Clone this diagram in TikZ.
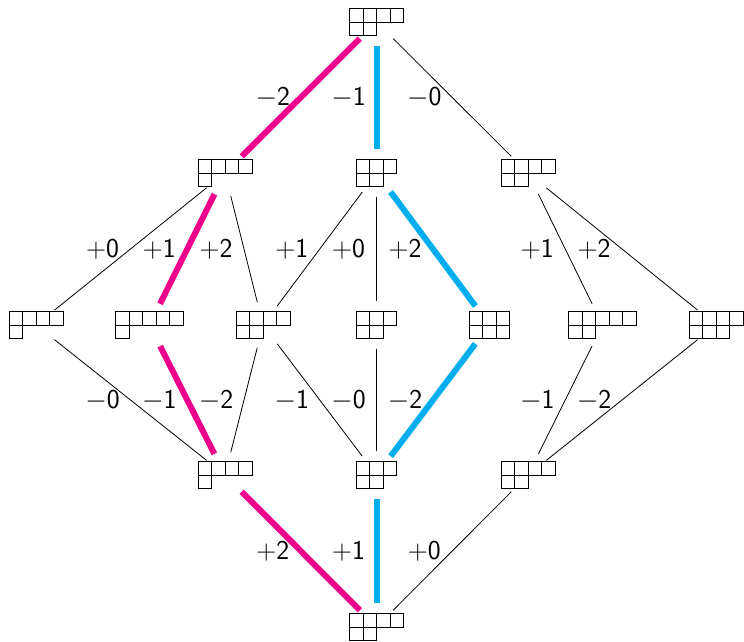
\documentclass[tikz,border=0pt]{standalone}
\definecolor{pmag}{RGB}{236,0,140}
\definecolor{pcyan}{RGB}{0,174,239}
\tikzset{
  ynode/.style={circle,minimum size=35pt,inner sep=0pt,draw=none},
  cell/.style={draw=black,line width=0.7pt},
  thin/.style={draw=black,line width=0.6pt},
  magp/.style={draw=pmag,line width=4.5pt},
  cyanp/.style={draw=pcyan,line width=4.5pt},
  lbl/.style={xshift=-21pt,font=\sffamily\fontsize{20.5}{24}\selectfont,inner sep=0pt}
}
\newcommand\ydiag[5]{%
  \node[ynode] (#1) at (#2,#3) {};
  \pgfmathsetmacro\ydxo{#2-#4*13.5/2}
  \pgfmathsetmacro\ydyo{#3-13.5}
  \foreach \i in {1,...,#4}{\draw[cell] ({\ydxo+(\i-1)*13.5},\ydyo) rectangle ++(13.5,13.5);}
  \foreach \i in {1,...,#5}{\draw[cell] ({\ydxo+(\i-1)*13.5},{\ydyo+13.5}) rectangle ++(13.5,13.5);}
}
\begin{document}
\begin{tikzpicture}[x=0.75pt,y=-0.75pt]
\useasboundingbox (0,0) rectangle (744,642);
\ydiag{T}{376.5}{22}{4}{2}
\ydiag{A1}{225}{173}{4}{1}
\ydiag{A2}{376.5}{173}{3}{2}
\ydiag{A3}{528}{173}{4}{2}
\ydiag{B1}{36}{325}{4}{1}
\ydiag{B2}{149.5}{325}{5}{1}
\ydiag{B3}{263}{325}{4}{2}
\ydiag{B4}{376.5}{325}{3}{2}
\ydiag{B5}{489.5}{325}{3}{3}
\ydiag{B6}{602.5}{325}{5}{2}
\ydiag{B7}{716}{325}{4}{3}
\ydiag{C1}{225}{475}{4}{1}
\ydiag{C2}{376.5}{475}{3}{2}
\ydiag{C3}{528}{475}{4}{2}
\ydiag{Z}{376.5}{627}{4}{2}
% top to row 2
\draw[magp] (T) -- node[lbl]{$-$2} (A1);
\draw[cyanp] (T) -- node[lbl]{$-$1} (A2);
\draw[thin] (T) -- node[lbl]{$-$0} (A3);
% row 2 to row 3
\draw[thin] (A1) -- node[lbl]{$+$0} (B1);
\draw[magp] (A1) -- node[lbl]{$+$1} (B2);
\draw[thin] (A1) -- node[lbl]{$+$2} (B3);
\draw[thin] (A2) -- node[lbl]{$+$1} (B3);
\draw[thin] (A2) -- node[lbl]{$+$0} (B4);
\draw[cyanp] (A2) -- node[lbl]{$+$2} (B5);
\draw[thin] (A3) -- node[lbl]{$+$1} (B6);
\draw[thin] (A3) -- node[lbl]{$+$2} (B7);
% row 3 to row 4
\draw[thin] (B1) -- node[lbl]{$-$0} (C1);
\draw[magp] (B2) -- node[lbl]{$-$1} (C1);
\draw[thin] (B3) -- node[lbl]{$-$2} (C1);
\draw[thin] (B3) -- node[lbl]{$-$1} (C2);
\draw[thin] (B4) -- node[lbl]{$-$0} (C2);
\draw[cyanp] (B5) -- node[lbl]{$-$2} (C2);
\draw[thin] (B6) -- node[lbl]{$-$1} (C3);
\draw[thin] (B7) -- node[lbl]{$-$2} (C3);
% row 4 to bottom
\draw[magp] (C1) -- node[lbl]{$+$2} (Z);
\draw[cyanp] (C2) -- node[lbl]{$+$1} (Z);
\draw[thin] (C3) -- node[lbl]{$+$0} (Z);
\end{tikzpicture}
\end{document}
